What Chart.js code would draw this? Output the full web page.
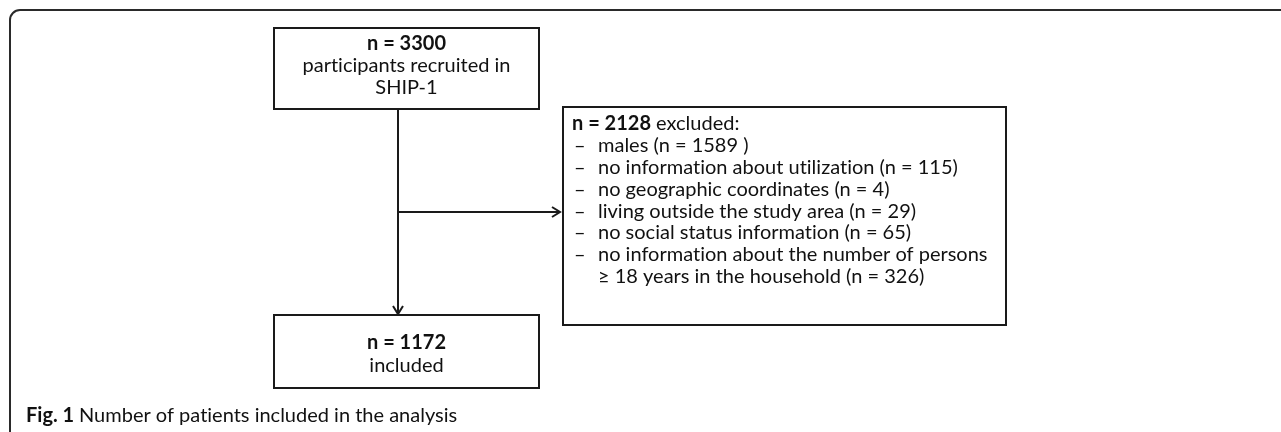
<!DOCTYPE html>
<html>
<head>
<meta charset="utf-8">
<script src="https://cdn.jsdelivr.net/npm/chart.js@4"></script>
<style>
  html, body { margin: 0; padding: 0; background: #fff; }
  #flow { display: block; }
</style>
</head>
<body>
<canvas id="flow" width="1281" height="432"></canvas>
<script>
// flow counts
const recruitedCount = 3300;
const excludedCount = 2128;
const includedCount = 1172;

const exclusionReasons = [
    'males',
    'no information about utilization',
    'no geographic coordinates',
    'living outside the study area',
    'no social status information',
    'no information about the number of persons\n\u2265 18 years in the household',
];
const exclusionCounts = [1589, 115, 4, 29, 65, 326];

const captionLabel = 'Fig. 1';
const captionText = 'Number of patients included in the analysis';

// box layout in page units (x: 0..1281, y: 0..432)
const boxTop = { x0: 274, y0: 28, x1: 539, y1: 109 };
const boxRight = { x0: 563, y0: 107, x1: 1006, y1: 325 };
const boxBottom = { x0: 274, y0: 315, x1: 539, y1: 388 };

const FONT = 'Lato, "Open Sans", sans-serif';
const FONT_SIZE = 20;
const LINE_H = 21.8;
const INK = '#1a1a1a';

function font(bold, size) {
    return (bold ? 'bold ' : '') + (size || FONT_SIZE) + 'px ' + FONT;
}

// keep "ti" from turning into a ligature
function noLig(s) {
    return s.replace(/ti/g, 't\u200Ci').replace(/f([il])/g, 'f\u200C$1');
}

function formatReason(reason, count, i) {
    // the first entry has a stray space in the original figure
    const spacer = i === 0 ? ' ' : '';
    return reason + ' (n = ' + count + spacer + ')';
}

const flowPlugin = {
    id: 'flowPlugin',
    afterDraw(chart) {
        const ctx = chart.ctx;
        const sx = chart.scales.x;
        const sy = chart.scales.y;
        const px = v => sx.getPixelForValue(v);
        const py = v => sy.getPixelForValue(v);

        ctx.save();

        // outer frame with rounded top-left corner
        ctx.strokeStyle = '#2a2a2a';
        ctx.lineWidth = 2;
        ctx.beginPath();
        ctx.moveTo(px(10), py(440));
        ctx.lineTo(px(10), py(20));
        ctx.arcTo(px(10), py(10), px(20), py(10), 10);
        ctx.lineTo(px(1290), py(10));
        ctx.stroke();

        // boxes
        ctx.strokeStyle = INK;
        ctx.lineWidth = 2;
        [boxTop, boxRight, boxBottom].forEach(b => {
            ctx.strokeRect(px(b.x0), py(b.y0), px(b.x1) - px(b.x0), py(b.y1) - py(b.y0));
        });

        // connectors
        const midX = 398;
        const branchY = 212;
        ctx.beginPath();
        ctx.moveTo(px(midX), py(boxTop.y1));
        ctx.lineTo(px(midX), py(boxBottom.y0 - 1));
        ctx.moveTo(px(midX), py(branchY));
        ctx.lineTo(px(boxRight.x0 - 3), py(branchY));
        ctx.stroke();

        function arrowHead(x, y, dir) {
            ctx.beginPath();
            if (dir === 'down') {
                ctx.moveTo(x - 5, y - 8);
                ctx.lineTo(x, y);
                ctx.lineTo(x + 5, y - 8);
            } else {
                ctx.moveTo(x - 8, y - 5);
                ctx.lineTo(x, y);
                ctx.lineTo(x - 8, y + 5);
            }
            ctx.stroke();
        }
        arrowHead(px(midX), py(boxBottom.y0 - 1), 'down');
        arrowHead(px(boxRight.x0 - 3), py(branchY), 'right');

        ctx.fillStyle = '#111';
        ctx.textBaseline = 'middle';

        // top box
        const cxTop = px((boxTop.x0 + boxTop.x1) / 2);
        ctx.textAlign = 'center';
        ctx.font = font(true);
        ctx.fillText('n = ' + recruitedCount, cxTop, py(44));
        ctx.font = font(false);
        ctx.fillText(noLig('participants recruited in'), cxTop, py(66));
        ctx.fillText('SHIP-1', cxTop, py(88));

        // bottom box
        const cxBot = px((boxBottom.x0 + boxBottom.x1) / 2);
        ctx.font = font(true);
        ctx.fillText('n = ' + includedCount, cxBot, py(343));
        ctx.font = font(false);
        ctx.fillText('included', cxBot, py(366));

        // exclusion box
        ctx.textAlign = 'left';
        let y = 124;
        ctx.font = font(true);
        const head = 'n = ' + excludedCount;
        ctx.fillText(head, px(572), py(y));
        const hw = ctx.measureText(head).width;
        ctx.font = font(false);
        ctx.fillText(' excluded:', px(572) + hw, py(y));

        exclusionReasons.forEach((reason, i) => {
            const lines = formatReason(reason, exclusionCounts[i], i).split('\n');
            lines.forEach((line, j) => {
                y += LINE_H;
                if (j === 0) {
                    ctx.fillText('\u2013', px(574), py(y));
                }
                ctx.fillText(noLig(line), px(598), py(y));
            });
        });

        // caption
        ctx.font = font(true, 20);
        ctx.fillText(captionLabel, px(26), py(416));
        const cw = ctx.measureText(captionLabel + ' ').width;
        ctx.font = font(false, 20);
        ctx.fillText(noLig(captionText), px(26) + cw, py(416));

        ctx.restore();
    },
};

new Chart(document.getElementById('flow'), {
    type: 'scatter',
    data: {
        datasets: [
            {
                label: 'boxes',
                data: [
                    { x: (boxTop.x0 + boxTop.x1) / 2, y: (boxTop.y0 + boxTop.y1) / 2 },
                    { x: (boxRight.x0 + boxRight.x1) / 2, y: (boxRight.y0 + boxRight.y1) / 2 },
                    { x: (boxBottom.x0 + boxBottom.x1) / 2, y: (boxBottom.y0 + boxBottom.y1) / 2 },
                ],
                pointRadius: 0,
            },
        ],
    },
    options: {
        responsive: false,
        animation: false,
        layout: { padding: 0 },
        scales: {
            x: { type: 'linear', min: 0, max: 1281, display: false },
            y: { type: 'linear', min: 0, max: 432, reverse: true, display: false },
        },
        plugins: {
            legend: { display: false },
            tooltip: { enabled: false },
        },
    },
    plugins: [flowPlugin],
});
</script>
</body>
</html>
